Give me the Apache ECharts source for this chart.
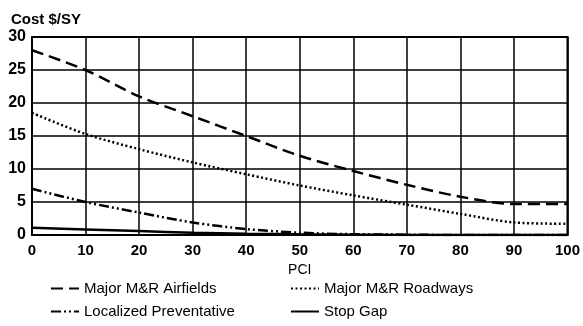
<!DOCTYPE html>
<html>
<head>
<meta charset="utf-8">
<script src="https://cdn.jsdelivr.net/npm/echarts@6/dist/echarts.min.js"></script>
<style>
html, body { margin: 0; padding: 0; background: #fff; }
#main { width: 583px; height: 326px; }
</style>
</head>
<body>
<div id="main"></div>
<script>
var pci = [0, 10, 20, 30, 40, 50, 60, 70, 80, 90, 100];
var airfields = [28, 25, 21, 18, 15, 12, 9.7, 7.6, 5.8, 4.7, 4.7];
var roadways = [18.5, 15.3, 13, 11, 9.2, 7.5, 6, 4.6, 3.2, 1.9, 1.7];
var localized = [7, 5, 3.4, 1.9, 0.9, 0.35, 0.12, 0.05, 0, 0, 0];
var stopGap = [1.1, 0.85, 0.6, 0.35, 0.2, 0.1, 0.05, 0, 0, 0, 0];

function pairs(vals) {
    return pci.map(function (x, i) { return [x, vals[i]]; });
}

var font = 'Liberation Sans, Arial, sans-serif';
let dom = document.getElementById('main');
let myChart = echarts.init(dom);

function mkSeries(name, vals, dash) {
    return {
        name: name,
        type: 'line',
        data: pairs(vals),
        smooth: 0.3,
        symbol: 'none',
        color: '#000',
        itemStyle: { color: '#000' },
        lineStyle: { color: '#000', width: 2.5, type: dash }
    };
}

function mkLegend(left, names) {
    return {
        orient: 'vertical', left: left, top: 281, padding: 0, itemGap: 8,
        itemWidth: 28, itemHeight: 12,
        itemStyle: { opacity: 0 },
        textStyle: { fontFamily: font, fontSize: 15, color: '#000' },
        data: names
    };
}

var option = {
    backgroundColor: '#fff',
    animation: false,
    textStyle: { fontFamily: font, color: '#000' },
    grid: {
        left: 32, right: 15, top: 37, bottom: 91,
        show: true, borderColor: '#000', borderWidth: 2
    },
    title: {
        text: 'Cost $/SY', left: 6, top: 7,
        textStyle: { fontFamily: font, fontSize: 15, fontWeight: 'bold', color: '#000' }
    },
    legend: [
        mkLegend(50, ['Major M&R Airfields', 'Localized Preventative']),
        mkLegend(290, ['Major M&R Roadways', 'Stop Gap'])
    ],
    xAxis: {
        type: 'value', min: 0, max: 100, interval: 10,
        name: 'PCI', nameLocation: 'middle', nameGap: 27,
        nameTextStyle: { fontFamily: font, fontSize: 14, color: '#000' },
        axisLine: { show: true, lineStyle: { color: '#000', width: 2 } },
        axisTick: { show: false },
        axisLabel: { fontFamily: font, fontSize: 15, fontWeight: 'bold', color: '#000', margin: 8 },
        splitLine: { show: true, lineStyle: { color: '#000', width: 1.5 } }
    },
    yAxis: {
        type: 'value', min: 0, max: 30, interval: 5,
        axisLine: { show: true, lineStyle: { color: '#000', width: 2 } },
        axisTick: { show: false },
        axisLabel: { fontFamily: font, fontSize: 16, fontWeight: 'bold', color: '#000', margin: 6 },
        splitLine: { show: true, lineStyle: { color: '#000', width: 1.5 } }
    },
    series: [
        mkSeries('Major M&R Airfields', airfields, [12, 6]),
        mkSeries('Major M&R Roadways', roadways, [2, 2.5]),
        mkSeries('Localized Preventative', localized, [10, 3, 2, 3, 2, 3]),
        mkSeries('Stop Gap', stopGap, 'solid')
    ]
};
myChart.setOption(option);
</script>
</body>
</html>
